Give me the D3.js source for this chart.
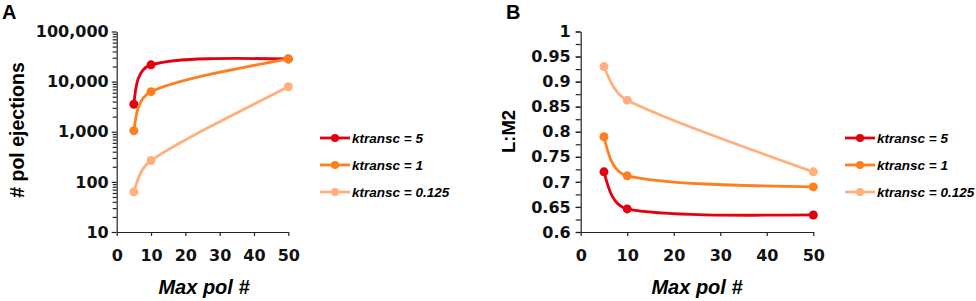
<!DOCTYPE html>
<html>
<head>
<meta charset="utf-8">
<script src="https://cdn.jsdelivr.net/npm/d3@7"></script>
<style>
  body { margin: 0; background: #fff; }
  svg { display: block; }
  .tick text { font-family: "DejaVu Sans", sans-serif; font-weight: bold; font-size: 16px; fill: #111; }
  .domain, .tick line { stroke: #222; stroke-width: 1.2; }
</style>
</head>
<body>
<div id="container"></div>
<script>
// values
const maxPol = [5, 10, 50]
const seriesNames = ["ktransc = 5", "ktransc = 1", "ktransc = 0.125"]
const colors = ["#e3000f", "#ff7f1f", "#ffb07c"]

const ejections5 = [3530, 21600, 28400]
const ejections1 = [1050, 6300, 28400]
const ejections0125 = [63, 267, 7900]

const lm2_5 = [0.72, 0.646, 0.634]
const lm2_1 = [0.79, 0.712, 0.69]
const lm2_0125 = [0.93, 0.863, 0.72]

const xTicks = [0, 10, 20, 30, 40, 50]
const logTicks = [10, 100, 1000, 10000, 100000]
const linTicks = [0.6, 0.65, 0.7, 0.75, 0.8, 0.85, 0.9, 0.95, 1]

const width = 976, height = 301

const svg = d3.select('#container')
    .append('svg').attr('width', width).attr('height', height)

// smoothed line a bit like the spreadsheet one: cardinal handles (1/6 of the
// neighbour span) but never longer than a third of the segment they sit on
const smooth = (pts) => {
    const n = pts.length
    const tang = pts.map((p, i) => {
        if (i === 0 || i === n - 1) return null
        return [(pts[i + 1][0] - pts[i - 1][0]) / 6, (pts[i + 1][1] - pts[i - 1][1]) / 6]
    })
    const clip = (t, len) => {
        const l = Math.hypot(t[0], t[1]), m = Math.min(l, len / 3)
        return [t[0] / l * m, t[1] / l * m]
    }
    const p = d3.path()
    p.moveTo(pts[0][0], pts[0][1])
    for (let i = 0; i < n - 1; i++) {
        const a = pts[i], b = pts[i + 1]
        const len = Math.hypot(b[0] - a[0], b[1] - a[1])
        let c1 = null, c2 = null
        if (tang[i]) { const t = clip(tang[i], len); c1 = [a[0] + t[0], a[1] + t[1]] }
        if (tang[i + 1]) { const t = clip(tang[i + 1], len); c2 = [b[0] - t[0], b[1] - t[1]] }
        if (!c1) c1 = c2 ? [a[0] + (c2[0] - a[0]) / 2, a[1] + (c2[1] - a[1]) / 2] : a
        if (!c2) c2 = [b[0] + (c1[0] - b[0]) / 2, b[1] + (c1[1] - b[1]) / 2]
        p.bezierCurveTo(c1[0], c1[1], c2[0], c2[1], b[0], b[1])
    }
    return p.toString()
}

const drawSeries = (g, x, y, values, color) => {
    const pts = values.map((d, i) => [x(maxPol[i]), y(d)])
    g.append('path')
        .attr('d', smooth(pts))
        .attr('fill', 'none')
        .attr('stroke', color)
        .attr('stroke-width', 2.8)
    g.selectAll(null).data(values).enter()
        .append('circle')
        .attr('cx', (d, i) => x(maxPol[i]))
        .attr('cy', d => y(d))
        .attr('r', 4.5)
        .attr('fill', color)
}

const drawXAxis = (g, x, y0) => {
    g.append('g')
        .attr('transform', 'translate(0,' + y0 + ')')
        .call(d3.axisBottom(x).tickValues(xTicks).tickSize(4).tickPadding(14).tickSizeOuter(0))
}

const drawLegend = (g, lx, ly) => {
    seriesNames.forEach((name, i) => {
        const yy = ly + i * 27
        g.append('line')
            .attr('x1', lx).attr('x2', lx + 30)
            .attr('y1', yy).attr('y2', yy)
            .attr('stroke', colors[i]).attr('stroke-width', 2.8)
        g.append('circle')
            .attr('cx', lx + 15).attr('cy', yy).attr('r', 4)
            .attr('fill', colors[i])
        g.append('text')
            .attr('x', lx + 32).attr('y', yy + 5)
            .attr('font-family', '"Liberation Sans", Arial, sans-serif')
            .attr('font-weight', 'bold').attr('font-style', 'italic')
            .attr('font-size', 13.5)
            .text(name)
    })
}

const label = (g, txt, x, y, size, rotate, italic) => {
    g.append('text')
        .attr('transform', 'translate(' + x + ',' + y + ')' + (rotate ? ' rotate(-90)' : ''))
        .attr('text-anchor', 'middle')
        .attr('font-family', '"Liberation Sans", Arial, sans-serif')
        .attr('font-weight', 'bold')
        .attr('font-style', italic ? 'italic' : 'normal')
        .attr('font-size', size)
        .text(txt)
}

// Panel A
const gA = svg.append('g')
const xA = d3.scaleLinear().domain([0, 50]).range([116.7, 288.3])
const yA = d3.scaleLog().domain([10, 100000]).range([232, 31.5])

const minorA = []
logTicks.slice(0, -1).forEach(t => { for (let k = 2; k <= 9; k++) minorA.push(t * k) })
gA.append('g').attr('transform', 'translate(116.7,0)')
    .call(d3.axisLeft(yA).tickValues(minorA).tickSize(4).tickFormat(''))
    .select('.domain').remove()
gA.append('g').attr('transform', 'translate(116.7,0)')
    .call(d3.axisLeft(yA).tickValues(logTicks).tickSize(5).tickPadding(3)
        .tickFormat(d3.format(',')).tickSizeOuter(0))
drawXAxis(gA, xA, 232)

drawSeries(gA, xA, yA, ejections5, colors[0])
drawSeries(gA, xA, yA, ejections1, colors[1])
drawSeries(gA, xA, yA, ejections0125, colors[2])

drawLegend(gA, 320, 138)
label(gA, '# pol ejections', 24, 130, 19.5, true, false)
label(gA, 'Max pol #', 204, 294, 20, false, true)
gA.append('text').attr('x', 2).attr('y', 19)
    .attr('font-family', '"Liberation Sans", Arial, sans-serif')
    .attr('font-weight', 'bold').attr('font-size', 20).text('A')

// Panel B
const gB = svg.append('g')
const xB = d3.scaleLinear().domain([0, 50]).range([580.7, 813.3])
const yB = d3.scaleLinear().domain([0.6, 1]).range([232, 31.5])

gB.append('g').attr('transform', 'translate(580.7,0)')
    .call(d3.axisLeft(yB).tickValues(d3.range(0.6, 1.001, 0.025)).tickSize(5).tickFormat(''))
    .select('.domain').remove()
gB.append('g').attr('transform', 'translate(580.7,0)')
    .call(d3.axisLeft(yB).tickValues(linTicks).tickSize(5).tickPadding(5)
        .tickFormat(d => d3.format('')(+d.toFixed(2))).tickSizeOuter(0))
drawXAxis(gB, xB, 232)

drawSeries(gB, xB, yB, lm2_5, colors[0])
drawSeries(gB, xB, yB, lm2_1, colors[1])
drawSeries(gB, xB, yB, lm2_0125, colors[2])

drawLegend(gB, 845, 138)
label(gB, 'L:M2', 515, 131.5, 18.5, true, false)
label(gB, 'Max pol #', 697, 294, 20, false, true)
gB.append('text').attr('x', 506).attr('y', 19)
    .attr('font-family', '"Liberation Sans", Arial, sans-serif')
    .attr('font-weight', 'bold').attr('font-size', 20).text('B')
</script>
</body>
</html>
